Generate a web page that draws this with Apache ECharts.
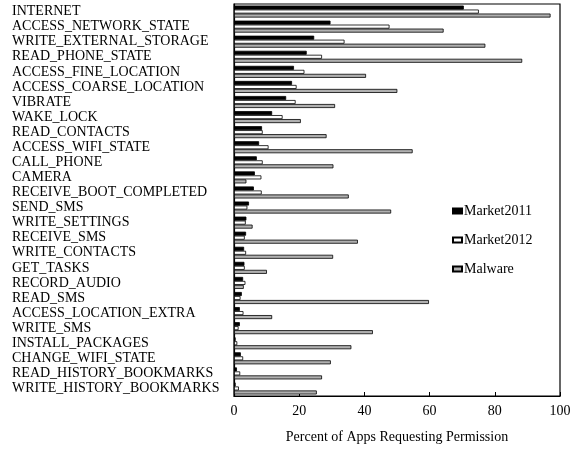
<!DOCTYPE html>
<html>
<head>
<meta charset="utf-8">
<script src="https://cdn.jsdelivr.net/npm/echarts@6/dist/echarts.min.js"></script>
<style>
  html, body { margin: 0; padding: 0; background: #fff; }
  #chart { width: 577px; height: 450px; }
</style>
</head>
<body>
<div id="chart"></div>
<script>
// permission names, top to bottom
const permissions = [
  "INTERNET", "ACCESS_NETWORK_STATE", "WRITE_EXTERNAL_STORAGE", "READ_PHONE_STATE",
  "ACCESS_FINE_LOCATION", "ACCESS_COARSE_LOCATION", "VIBRATE", "WAKE_LOCK",
  "READ_CONTACTS", "ACCESS_WIFI_STATE", "CALL_PHONE", "CAMERA",
  "RECEIVE_BOOT_COMPLETED", "SEND_SMS", "WRITE_SETTINGS", "RECEIVE_SMS",
  "WRITE_CONTACTS", "GET_TASKS", "RECORD_AUDIO", "READ_SMS",
  "ACCESS_LOCATION_EXTRA", "WRITE_SMS", "INSTALL_PACKAGES", "CHANGE_WIFI_STATE",
  "READ_HISTORY_BOOKMARKS", "WRITE_HISTORY_BOOKMARKS"
];

const market2011 = [70.5, 29.6, 24.6, 22.3, 18.4, 17.8, 16.0, 11.7, 8.6, 7.7, 7.0, 6.4,
  6.1, 4.6, 3.8, 3.7, 3.1, 3.2, 2.8, 2.4, 1.8, 1.8, 0.5, 2.1, 0.9, 0.5];
const market2012 = [75.1, 47.7, 33.9, 27.0, 21.6, 19.2, 18.9, 14.9, 8.8, 10.6, 8.8, 8.4,
  8.5, 4.1, 3.6, 3.3, 3.7, 3.3, 3.5, 2.0, 2.9, 1.4, 1.0, 2.8, 1.9, 1.5];
const malware = [97.1, 64.3, 77.1, 88.4, 40.5, 50.1, 31.0, 20.5, 28.4, 54.8, 30.5, 3.8,
  35.2, 48.2, 5.7, 38.0, 30.4, 10.1, 3.0, 59.8, 11.7, 42.6, 36.0, 29.7, 27.0, 25.4];

const xTicks = [0, 20, 40, 60, 80, 100];

const serif = "Liberation Serif";

const chart = echarts.init(document.getElementById("chart"));

function barSeries(name, data, color) {
  return {
    name: name,
    type: "bar",
    data: data,
    barWidth: 4,
    barGap: "0%",
    itemStyle: {
      color: color,
      borderColor: "#000",
      borderWidth: 0.8
    },
    animation: false
  };
}

chart.setOption({
  textStyle: { fontFamily: serif },
  grid: {
    left: 234,
    right: 17,
    top: 4,
    bottom: 54,
    show: true,
    borderColor: "#000",
    borderWidth: 1.2
  },
  legend: {
    orient: "vertical",
    left: 447,
    top: 199,
    icon: "rect",
    itemWidth: 9,
    itemHeight: 5,
    itemGap: 15,
    textStyle: { fontFamily: serif, fontSize: 14, color: "#000", padding: [0, 0, 0, -3] },
    data: ["Market2011", "Market2012", "Malware"]
  },
  xAxis: {
    type: "value",
    min: xTicks[0],
    max: xTicks[xTicks.length - 1],
    interval: 20,
    name: "Percent of Apps Requesting Permission",
    nameLocation: "middle",
    nameGap: 34,
    nameTextStyle: { fontFamily: serif, fontSize: 14, color: "#000" },
    axisLine: { show: true, lineStyle: { color: "#000", width: 1.2 } },
    axisTick: { show: true, inside: true, length: 4, lineStyle: { color: "#000" } },
    axisLabel: { fontFamily: serif, fontSize: 14, color: "#000", margin: 8 },
    splitLine: { show: false }
  },
  yAxis: {
    type: "category",
    data: permissions,
    inverse: true,
    axisLine: { show: true, lineStyle: { color: "#000", width: 1.2 } },
    axisTick: { show: false },
    axisLabel: {
      fontFamily: serif,
      fontSize: 14,
      color: "#000",
      align: "left",
      margin: 222,
      padding: [4, 0, 0, 0],
      interval: 0
    }
  },
  series: [
    barSeries("Market2011", market2011, "#000000"),
    barSeries("Market2012", market2012, "#ffffff"),
    barSeries("Malware", malware, "#b0b0b0")
  ]
});
</script>
</body>
</html>
